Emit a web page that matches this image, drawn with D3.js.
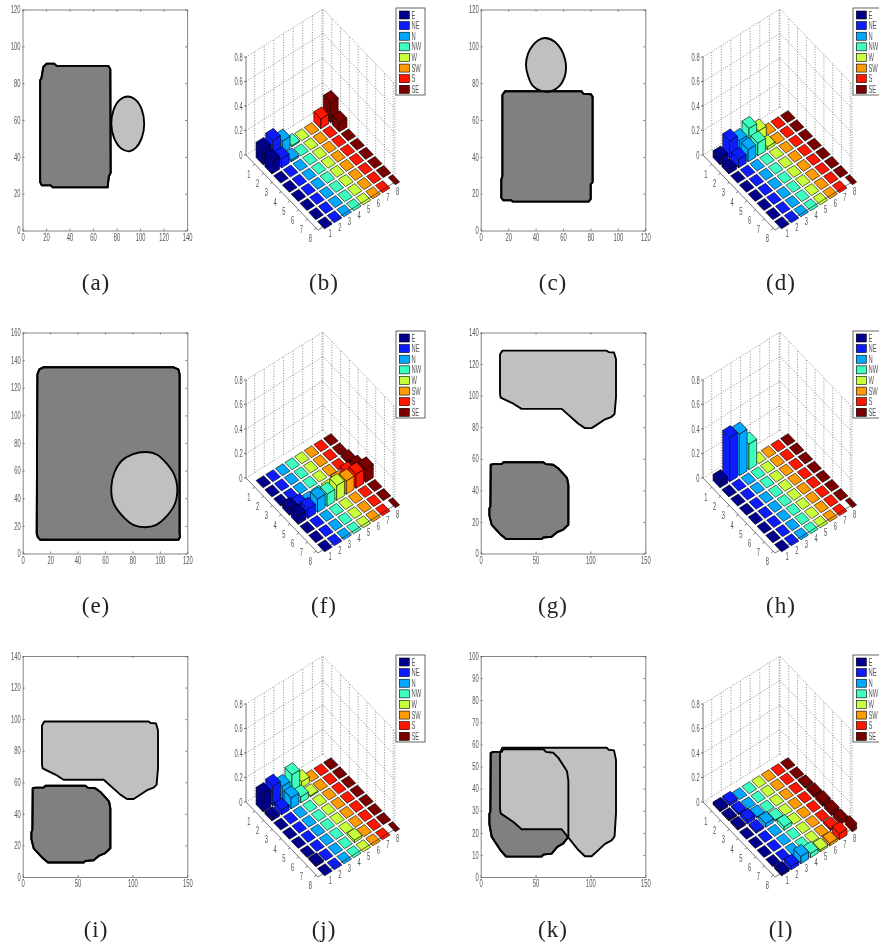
<!DOCTYPE html>
<html>
<head>
<meta charset="utf-8">
<script src="https://cdnjs.cloudflare.com/ajax/libs/d3/7.8.5/d3.min.js"></script>
<style>
html, body { margin: 0; padding: 0; background: #fff; }
svg { display: block; }
text { font-family: "Liberation Sans", Arial, sans-serif; }
</style>
</head>
<body>
<svg id="fig" width="879" height="947"></svg>
<script>
// direction bins, one colour per bar3 column
const dirs = ['E', 'NE', 'N', 'NW', 'W', 'SW', 'S', 'SE'];
const dirColors = ['#00008c', '#0a1eff', '#00a8ff', '#3dffc0', '#c8ff3a', '#ff9a00', '#ff1400', '#7a0000'];
const cellIdx = [1, 2, 3, 4, 5, 6, 7, 8];
const zTicks = [0, 0.2, 0.4, 0.6, 0.8];

// outlines in data units
const darkA = [[17.7, 88.8], [20.5, 90.6], [27, 90.6], [29, 89.4], [73, 89.4], [74.7, 87.6], [75, 31.3], [73.5, 29.5], [72.4, 23.4], [25.7, 23.4], [24, 24.5], [16.4, 24.5], [15, 26.3], [15, 81.6], [16, 82.5]];
const lightA = [[89.5, 72.8], [96.5, 70.8], [101.6, 65.4], [103.5, 58], [101.6, 50.6], [96.5, 45], [91, 43], [84, 44.5], [78, 50], [75.5, 58], [77.4, 65.4], [82.5, 70.8]];
const darkC = [[15.8, 73.6], [17.7, 75.6], [73.6, 75.6], [74.8, 74.3], [80.2, 74], [81.6, 72.7], [81.6, 26.3], [80.2, 25], [80.2, 17], [78.7, 15.7], [23.3, 15.7], [22.3, 16.4], [16.5, 16.4], [15, 17.8], [15, 27.7], [15.8, 29.5]];
const lightC = [[47, 104.5], [54, 102.5], [58.5, 98.5], [61.5, 93], [62.2, 88], [61, 83], [57.5, 78.5], [52, 75.8], [44, 75.8], [38, 78.5], [34.5, 84], [33, 90], [34.5, 96], [38, 100.5], [42, 103.3]];
const darkE = [[10.7, 129.7], [12.1, 133.3], [15, 134.8], [110, 134.8], [113.5, 133.3], [114.4, 129.7], [114.4, 14.5], [114.7, 12], [113.5, 10], [12.6, 10], [10.9, 12], [10.2, 14.5]];
const lightE = [[90.4, 73.5], [98, 71.5], [105, 65], [110.5, 57], [112.7, 48], [111, 36], [105, 27], [97, 20.5], [89, 19], [81, 20.5], [72, 28], [66, 37], [64.6, 48], [67, 59], [72, 67], [80, 71.8]];
const darkG = [[9.1, 56.2], [11.5, 56.6], [19.1, 56.6], [20.6, 57.8], [57.1, 57.8], [59.5, 56.6], [66.2, 56.2], [70.8, 53.9], [76.8, 49.3], [78.7, 47.7], [79.9, 43.5], [79.9, 18.2], [75.3, 15.2], [69.8, 13.6], [64.7, 10.6], [57.1, 10.1], [55.6, 9.2], [23.1, 9.2], [17.6, 12.4], [10, 18.2], [7.9, 24], [7.9, 28.6], [8.8, 29.7]];
const lightG = [[19.7, 128.5], [114.8, 128.5], [116.6, 127.6], [121.5, 127.3], [123.3, 123], [123.3, 98.8], [122, 88.4], [119.3, 86.6], [113.3, 85], [105.7, 81.5], [101.1, 79.4], [95, 79.4], [89, 82.2], [73.8, 91.6], [41.3, 91.6], [37.3, 91.6], [29.8, 94.9], [18.2, 98.8], [17.6, 101], [17.6, 126]];

// same top shape slid down in (i) and (k)
const lightI = lightG.map(p => [p[0], p[1] - 30]);
const lightK = lightG.map(p => [p[0], p[1] - 70]);

// bar heights, rows 1..8 by direction
const barsB = [
	[0.125, 0.15, 0.095, 0.01, 0, 0, 0.08, 0.165],
	[0.105, 0.075, 0.015, 0, 0, 0, 0, 0.075],
	[0, 0, 0, 0, 0, 0, 0, 0],
	[0, 0, 0, 0, 0, 0, 0, 0],
	[0, 0, 0, 0, 0, 0, 0, 0],
	[0, 0, 0, 0, 0, 0, 0, 0],
	[0, 0, 0, 0, 0, 0, 0, 0],
	[0, 0, 0, 0, 0, 0, 0, 0],
];
const barsD = [
	[0.055, 0.145, 0.1, 0.15, 0.08, 0, 0, 0],
	[0.03, 0.07, 0.1, 0.105, 0.025, 0, 0, 0],
	[0, 0, 0, 0, 0, 0, 0, 0],
	[0, 0, 0, 0, 0, 0, 0, 0],
	[0, 0, 0, 0, 0, 0, 0, 0],
	[0, 0, 0, 0, 0, 0, 0, 0],
	[0, 0, 0, 0, 0, 0, 0, 0],
	[0, 0, 0, 0, 0, 0, 0, 0],
];
const barsF = [
	[0, 0, 0, 0, 0, 0, 0, 0],
	[0, 0, 0, 0, 0, 0, 0, 0],
	[0, 0, 0, 0, 0, 0, 0, 0.02],
	[0.05, 0.03, 0, 0, 0, 0.02, 0.045, 0.05],
	[0.07, 0.075, 0.11, 0.1, 0.12, 0.11, 0.115, 0.11],
	[0, 0, 0, 0, 0, 0, 0, 0],
	[0, 0, 0, 0, 0, 0, 0, 0],
	[0, 0, 0, 0, 0, 0, 0, 0],
];
const barsH = [
	[0.05, 0.36, 0.34, 0.21, 0, 0, 0, 0],
	[0, 0, 0, 0, 0, 0, 0, 0],
	[0, 0, 0, 0, 0, 0, 0, 0],
	[0, 0, 0, 0, 0, 0, 0, 0],
	[0, 0, 0, 0, 0, 0, 0, 0],
	[0, 0, 0, 0, 0, 0, 0, 0],
	[0, 0, 0, 0, 0, 0, 0, 0],
	[0, 0, 0, 0, 0, 0, 0, 0],
];
const barsJ = [
	[0.14, 0.16, 0.11, 0.155, 0.05, 0, 0, 0],
	[0.02, 0.04, 0.09, 0.05, 0.01, 0, 0, 0],
	[0, 0, 0, 0, 0, 0, 0, 0],
	[0, 0, 0, 0, 0, 0, 0, 0],
	[0, 0, 0, 0, 0, 0, 0, 0],
	[0, 0, 0, 0, 0, 0, 0, 0],
	[0.015, 0, 0, 0, 0.02, 0, 0, 0],
	[0, 0, 0, 0, 0, 0, 0, 0],
];
const barsL = [
	[0.02, 0.02, 0, 0, 0, 0, 0, 0],
	[0.01, 0.015, 0, 0, 0, 0, 0, 0],
	[0.015, 0.03, 0.01, 0, 0, 0, 0, 0.01],
	[0, 0.015, 0.03, 0.01, 0, 0, 0, 0.02],
	[0, 0, 0, 0.03, 0, 0, 0, 0.03],
	[0, 0, 0, 0, 0, 0, 0, 0.03],
	[0, 0, 0, 0, 0, 0, 0.015, 0.03],
	[0.02, 0.03, 0.06, 0.035, 0.015, 0.02, 0.05, 0.05],
];

const svg = d3.select('#fig');
const defs = svg.append('defs');
defs.append('filter').attr('id', 'soft')
	.attr('x', '-5%').attr('y', '-5%').attr('width', '110%').attr('height', '110%')
	.append('feGaussianBlur').attr('stdDeviation', 0.4);
const root = svg.append('g').attr('filter', 'url(#soft)');

// the exported figures have squeezed tick labels
function squeeze(sel, factor) {
	sel.attr('textLength', function() { return this.getComputedTextLength() * factor; })
		.attr('lengthAdjust', 'spacingAndGlyphs');
}

function drawShapes(left, top, xTicks, yTicks, dark, light, round) {
	const W = 164.6;
	const H = 221;
	const g = root.append('g').attr('transform', `translate(${left},${top})`);
	const x = d3.scaleLinear().domain([0, xTicks[xTicks.length - 1]]).range([0, W]);
	const y = d3.scaleLinear().domain([0, yTicks[yTicks.length - 1]]).range([H, 0]);
	const line = d3.line().x(d => x(d[0])).y(d => y(d[1]));
	const darkPath = line.curve(d3.curveLinearClosed)(dark);
	const lightPath = line.curve(round ? d3.curveCatmullRomClosed : d3.curveLinearClosed)(light);

	g.append('rect').attr('width', W).attr('height', H).attr('fill', '#fff');

	// dark outline goes on last, it shows through the light shape in (k)
	[[darkPath, '#808080'], [lightPath, '#c0c0c0'], [darkPath, 'none']].forEach(s => {
		g.append('path')
			.attr('d', s[0])
			.attr('fill', s[1])
			.attr('stroke', '#000')
			.attr('stroke-width', 1.9)
			.attr('stroke-linejoin', 'round');
	});

	const bottomAxis = d3.axisBottom(x).tickValues(xTicks).tickFormat(d3.format('d')).tickSizeInner(-2).tickSizeOuter(0).tickPadding(3);
	const leftAxis = d3.axisLeft(y).tickValues(yTicks).tickFormat(d3.format('d')).tickSizeInner(-2).tickSizeOuter(0).tickPadding(2);
	const topAxis = d3.axisTop(x).tickValues(xTicks).tickFormat('').tickSizeInner(-2).tickSizeOuter(0);
	const rightAxis = d3.axisRight(y).tickValues(yTicks).tickFormat('').tickSizeInner(-2).tickSizeOuter(0);

	const axes = [
		g.append('g').attr('transform', `translate(0,${H})`).call(bottomAxis),
		g.append('g').call(leftAxis),
		g.append('g').call(topAxis),
		g.append('g').attr('transform', `translate(${W},0)`).call(rightAxis),
	];
	axes.forEach(a => {
		a.selectAll('path, line').attr('stroke', '#666').attr('stroke-width', 0.8);
		a.selectAll('text').attr('fill', '#555').attr('font-size', 10).call(squeeze, 0.58);
	});
}

function drawBars(ox, oy, heights) {
	const g = root.append('g').attr('transform', `translate(${ox},${oy})`);
	// floor and height of the bar3 view, all offsets from the left corner
	const rowX = d3.scaleLinear().domain([0, 8.2]).range([0, 72]);
	const rowY = d3.scaleLinear().domain([0, 8.2]).range([0, 75]);
	const colX = d3.scaleLinear().domain([0.1, 8.1]).range([0, 77]);
	const colY = d3.scaleLinear().domain([0.1, 8.1]).range([0, -48]);
	const zY = d3.scaleLinear().domain([0, 0.8]).range([0, -98]);
	const px = (r, c) => rowX(r) + colX(c);
	const py = (r, c, z) => rowY(r) + colY(c) + zY(z);
	const rMin = 0, rMax = 8.2, cMin = 0.1, cMax = 8.1;
	const seg = (a, b) => ({ x1: a[0], y1: a[1], x2: b[0], y2: b[1] });
	const pt = (r, c, z) => [px(r, c), py(r, c, z)];

	// dotted walls
	const wall = [];
	cellIdx.forEach(j => wall.push(seg(pt(rMin, j, 0), pt(rMin, j, 0.8))));
	cellIdx.forEach(i => wall.push(seg(pt(i, cMax, 0), pt(i, cMax, 0.8))));
	wall.push(seg(pt(rMin, cMax, 0), pt(rMin, cMax, 0.8)));
	wall.push(seg(pt(rMax, cMax, 0), pt(rMax, cMax, 0.8)));
	zTicks.forEach(z => {
		wall.push(seg(pt(rMin, cMin, z), pt(rMin, cMax, z)));
		wall.push(seg(pt(rMin, cMax, z), pt(rMax, cMax, z)));
	});
	g.selectAll('line.wall').data(wall).join('line')
		.attr('class', 'wall')
		.attr('x1', d => d.x1).attr('y1', d => d.y1)
		.attr('x2', d => d.x2).attr('y2', d => d.y2)
		.attr('stroke', '#777')
		.attr('stroke-width', 0.8)
		.attr('stroke-dasharray', '1 1.6');

	// solid axis lines with their ticks
	const axisLines = [
		seg(pt(rMin, cMin, 0), pt(rMin, cMin, 0.8)),
		seg(pt(rMin, cMin, 0), pt(rMax, cMin, 0)),
		seg(pt(rMax, cMin, 0), pt(rMax, cMax, 0)),
	];
	zTicks.forEach(z => {
		const p = pt(rMin, cMin, z);
		axisLines.push(seg(p, [p[0] - 2, p[1]]));
	});
	cellIdx.forEach(i => {
		const p = pt(i, cMin, 0);
		axisLines.push(seg(p, [p[0] - 2, p[1] + 1.5]));
		const q = pt(rMax, i, 0);
		axisLines.push(seg(q, [q[0] + 2, q[1] + 1.5]));
	});
	g.selectAll('line.ax').data(axisLines).join('line')
		.attr('class', 'ax')
		.attr('x1', d => d.x1).attr('y1', d => d.y1)
		.attr('x2', d => d.x2).attr('y2', d => d.y2)
		.attr('stroke', '#555')
		.attr('stroke-width', 0.8);

	// back to front: row 1 first, highest direction first within a row
	const hw = 0.4;
	heights.forEach((row, ri) => {
		d3.range(7, -1, -1).forEach(ci => {
			const r = ri + 1;
			const c = ci + 1;
			const v = row[ci];
			// last corner cell runs off the axes box
			const r0 = r - hw;
			const r1 = r + hw;
			const c0 = (r == 8 && c == 8) ? c - 0.05 : c - hw;
			const c1 = c + hw;
			const fill = dirColors[ci];
			const faces = [];
			if (v > 0) {
				faces.push([pt(r0, c0, 0), pt(r1, c0, 0), pt(r1, c0, v), pt(r0, c0, v)]);
				faces.push([pt(r1, c0, 0), pt(r1, c1, 0), pt(r1, c1, v), pt(r1, c0, v)]);
			}
			faces.push([pt(r0, c0, v), pt(r1, c0, v), pt(r1, c1, v), pt(r0, c1, v)]);
			faces.forEach(f => {
				g.append('polygon')
					.attr('points', f.map(p => p.join(',')).join(' '))
					.attr('fill', fill)
					.attr('stroke', '#000')
					.attr('stroke-width', 0.6)
					.attr('stroke-linejoin', 'round');
			});
			// front axis shows through the flat cells of row 8
			if (r == 8 && v == 0 && c > 1) {
				const a = pt(rMax, c0, 0);
				const b = pt(rMax, c1, 0);
				g.append('line')
					.attr('x1', a[0]).attr('y1', a[1])
					.attr('x2', b[0]).attr('y2', b[1])
					.attr('stroke', '#222')
					.attr('stroke-width', 0.7);
			}
		});
	});

	// tick labels
	const labels = [];
	zTicks.forEach(z => {
		const p = pt(rMin, cMin, z);
		labels.push({ x: p[0] - 3.4, y: p[1] + 3.5, t: d3.format('.1~f')(z), a: 'end' });
	});
	cellIdx.forEach(i => {
		const p = pt(i, cMin, 0);
		labels.push({ x: p[0] - 6, y: p[1] + 14, t: i, a: 'middle' });
		const q = pt(rMax, i, 0);
		labels.push({ x: q[0] + 3.5, y: q[1] + 12, t: i, a: 'middle' });
	});
	g.selectAll('text.tick').data(labels).join('text')
		.attr('class', 'tick')
		.attr('x', d => d.x)
		.attr('y', d => d.y)
		.attr('text-anchor', d => d.a)
		.attr('fill', '#555')
		.attr('font-size', 10)
		.text(d => d.t)
		.call(squeeze, 0.58);

	// legend
	const leg = g.append('g').attr('transform', 'translate(150,-147)');
	leg.append('rect')
		.attr('width', 29).attr('height', 87)
		.attr('fill', '#fff').attr('stroke', '#555').attr('stroke-width', 0.9);
	const ly = d3.scalePoint().domain(dirs).range([7, 81.3]);
	dirs.forEach((d, i) => {
		leg.append('rect')
			.attr('x', 3.3).attr('y', ly(d) - 4)
			.attr('width', 10).attr('height', 8)
			.attr('fill', dirColors[i])
			.attr('stroke', '#000').attr('stroke-width', 0.6);
		// scaled rather than textLength, the panels on the right run up to the page edge
		leg.append('text')
			.attr('transform', `translate(15.5,${ly(d) + 3.5}) scale(0.58,1)`)
			.attr('fill', '#555')
			.attr('font-size', 10)
			.text(d);
	});
}

drawShapes(22.5, 9.5, d3.range(0, 141, 20), d3.range(0, 121, 20), darkA, lightA, true);
drawBars(246, 155, barsB);
drawShapes(480.7, 9.5, d3.range(0, 121, 20), d3.range(0, 121, 20), darkC, lightC, true);
drawBars(703, 155, barsD);

drawShapes(22.7, 332.5, d3.range(0, 121, 20), d3.range(0, 161, 20), darkE, lightE, true);
drawBars(246, 478, barsF);
drawShapes(480.7, 332.5, [0, 50, 100, 150], d3.range(0, 141, 20), darkG, lightG, false);
drawBars(703, 478, barsH);

drawShapes(22.7, 656, [0, 50, 100, 150], d3.range(0, 141, 20), darkG, lightI, false);
drawBars(246, 802, barsJ);
drawShapes(480.7, 656, [0, 50, 100, 150], d3.range(0, 101, 10), darkG, lightK, false);
drawBars(703, 802, barsL);

// captions
const captions = ['(a)', '(b)', '(c)', '(d)', '(e)', '(f)', '(g)', '(h)', '(i)', '(j)', '(k)', '(l)'];
const capX = [96, 324, 553, 781];
const capY = [290, 613, 937];
root.selectAll('text.cap').data(captions).join('text')
	.attr('class', 'cap')
	.attr('x', (d, i) => capX[i % 4])
	.attr('y', (d, i) => capY[Math.floor(i / 4)])
	.attr('text-anchor', 'middle')
	.attr('font-size', 23)
	.attr('letter-spacing', 1)
	.attr('fill', '#222')
	.style('font-family', '"Liberation Serif", serif')
	.text(d => d);
</script>
</body>
</html>
